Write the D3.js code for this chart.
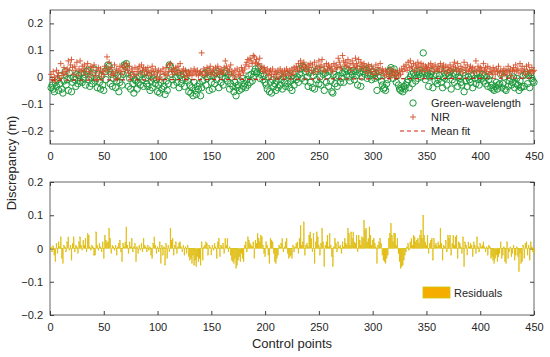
<!DOCTYPE html>
<html>
<head>
<meta charset="utf-8">
<script src="https://cdn.jsdelivr.net/npm/d3@7"></script>
<style>
  body { margin: 0; background: #fff; }
  #chart { width: 550px; height: 357px; }
  text { font-family: Arial, "Liberation Sans", Helvetica, sans-serif; fill: #262626; }
  .axis path, .axis line { stroke: #404040; }
  .axis text { font-size: 11px; fill: #262626; }
</style>
</head>
<body>
<div id="chart"></div>
<script>
// discrepancies in millimetres, control point 1..450
const greenWavelength = [
  -40,-30,-45,-55,-20,-35,-10,-50,-25,5, -45,-60,-15,20,-30,-10,-50,15,-5,-55,
  -20,0,-10,-35,10,-25,5,-15,15,-20, -5,10,-30,20,25,-10,-35,0,-25,15,
  30,-15,-5,-40,10,-20,-45,5,-30,-50, 20,-10,30,45,40,-25,10,-35,-5,15,
  -40,-15,5,-55,-20,0,-30,10,45,40, 50,15,-35,-5,-45,5,-25,-60,-10,-15,
  -45,-20,0,-30,10,-10,-35,15,-5,-25, -35,5,-50,-15,-40,-5,10,-25,-10,-55,
  -30,-60,-20,-45,0,-35,-65,-15,-50,-25, 45,40,10,-10,-30,20,0,-20,15,-40,
  5,-25,-10,10,-35,-5,15,-15,-55,-30, -60,-40,-70,-20,-50,-65,-35,-45,-25,-70,
  -40,-15,10,15,-30,-5,20,-50,5,-20, -45,5,-25,15,-10,20,-40,10,-20,0,
  -30,15,-5,20,-15,10,-45,-25,0,-35, -55,-20,-70,-40,-30,-50,-15,-45,-5,-35,
  -25,-40,-10,-30,5,-20,10,-15,0,20, 30,15,20,35,-5,10,25,-10,5,-20,
  -30,-45,0,-55,-20,-60,-10,-35,-25,-50, -15,-40,5,-30,-10,-45,0,-20,-35,10,
  -25,5,-40,-15,-50,-5,-30,15,-10,0, -20,10,30,-5,40,35,-15,20,0,-35,
  15,-20,25,-40,5,-45,20,-10,30,-25, 0,-30,25,10,-50,15,-20,5,-35,20,
  -15,-55,-60,10,-25,0,-35,5,25,-20, -5,15,-20,20,30,10,25,0,-15,20,
  10,25,-10,20,5,-30,30,15,-35,0, 20,30,10,25,-5,15,35,5,-10,20,
  10,-5,15,-50,0,20,5,-15,-30,-45, -40,-50,-25,-10,20,25,35,10,-5,30,
  15,-20,5,-30,-45,-50,-40,-55,-35,-45, -30,-20,-10,-40,0,10,-25,15,5,-15,
  20,-5,10,25,0,15,90,20,-10,5, 15,-35,0,10,20,-40,5,-15,10,-25,
  -10,5,30,-20,-40,0,-5,10,-30,15, 5,20,-45,-10,15,-20,10,20,-35,0,
  -5,-20,-30,15,-55,5,-15,-35,0,-10, -20,5,-40,10,-5,-25,15,-10,-30,0,
  -5,10,-15,5,-25,0,-35,-10,5,-40, -30,-45,-50,-35,-20,-45,-30,-25,10,-40,
  -25,0,-45,-50,15,-35,-15,-5,-30,-20, 0,-40,-25,-5,-30,-50,-15,-40,-35,5,
  -35,10,15,-25,5,-40,15,-5,-15,-20
];

const nir = [
  10,-10,20,0,-15,25,5,15,-5,50, 5,15,35,20,10,30,60,25,45,65,
  35,10,40,25,55,5,30,60,20,40, 25,45,10,30,50,20,0,40,15,35,
  45,5,25,-10,35,15,30,0,20,10, 40,25,75,30,55,10,35,20,5,45,
  15,30,-5,25,40,20,10,35,45,30, 50,25,15,40,0,30,20,10,35,5,
  20,30,40,15,45,25,35,10,30,20, 35,15,5,25,40,20,10,30,-5,15,
  25,0,20,-10,30,10,15,35,5,20, 45,50,25,10,30,20,35,15,40,25,
  50,10,20,30,0,25,15,5,20,10, 25,5,15,30,20,10,25,5,15,20,
  90,10,30,20,5,35,15,25,40,10, 20,30,5,35,15,40,25,10,30,20,
  15,35,60,40,25,10,30,45,20,5, 15,25,0,30,10,20,5,35,25,15,
  30,45,55,65,40,70,60,50,80,75, 55,65,45,50,70,30,40,20,35,25,
  15,30,5,20,25,10,30,0,15,20, 10,25,0,30,15,20,5,25,10,30,
  20,5,25,15,30,10,35,20,40,30, 50,25,60,35,45,55,30,40,20,45,
  35,50,25,45,15,55,30,40,20,60, 35,45,65,25,40,20,50,30,45,35,
  25,40,20,50,30,45,35,70,55,40, 30,80,60,45,55,40,65,35,50,25,
  60,45,35,70,50,40,65,30,55,45, 35,50,25,40,15,45,30,20,40,10,
  30,20,45,10,35,25,50,15,30,20, 5,25,10,20,0,30,15,5,25,10,
  20,0,15,5,25,10,30,20,40,30, 45,25,55,35,60,40,30,50,20,45,
  35,55,40,25,50,30,45,20,40,35, 30,45,25,50,35,40,20,45,30,25,
  40,30,50,20,35,45,25,40,15,35, 25,45,30,20,40,55,35,25,50,30,
  20,40,30,15,55,35,25,45,20,30, 40,25,35,15,30,60,20,40,25,35,
  30,15,50,25,35,20,40,10,30,20, 15,35,25,10,30,20,40,15,25,5,
  20,30,10,25,15,40,20,30,5,25, 35,20,45,25,30,15,50,25,40,20,
  30,10,40,20,45,25,15,35,20,25
];

const residuals = [
  5,-10,8,-20,-40,15,-15,20,5,35, -30,-45,10,5,-10,20,35,-5,10,-35,
  15,35,-10,10,5,-15,20,35,10,-5, 25,10,30,-10,45,40,5,-5,10,5,
  -20,-20,50,10,-5,15,5,-10,20,-30, 40,25,15,20,60,30,-15,10,5,-5,
  10,-20,5,15,25,-10,-40,15,5,20, 65,10,-15,20,5,30,-10,5,15,-40,
  5,-15,10,-5,15,-10,30,10,5,-10, 10,-5,5,-20,-30,15,35,10,-15,5,
  -10,20,-45,10,-20,5,-50,15,-30,10, -10,60,25,30,-20,10,20,-15,5,15,
  20,5,-10,10,-20,5,-15,10,-25,-35, -30,-45,-20,-50,-35,-55,-25,-40,-30,-50,
  20,-35,5,10,20,15,-20,10,5,-20, 10,-5,15,5,-30,20,30,-25,10,5,
  15,-15,30,10,30,-10,5,-20,-35,-40, -45,-30,-60,-50,-35,-25,-40,-15,-30,-40,
  10,20,-10,35,25,15,10,5,20,-30, 25,15,45,30,20,40,35,10,-15,-25,
  20,10,-20,-45,30,25,20,-15,-40,-45, -30,-20,10,5,15,30,-10,5,20,30,
  -15,-30,-25,-20,-30,10,-10,5,15,20, -15,30,70,10,20,80,-20,10,15,5,
  40,50,30,-10,45,-45,20,50,35,10, -20,15,60,20,-55,10,20,40,5,45,
  10,-25,-55,5,30,15,-10,20,5,10, -15,20,5,30,15,10,60,45,10,50,
  30,50,20,15,40,-10,40,25,10,35, 30,85,55,60,20,30,65,40,10,25,
  30,15,5,-45,10,20,30,15,-20,-35, -40,-45,-30,-20,30,45,75,40,20,45,
  45,10,30,-15,-40,-60,-55,-50,-35,-20, -10,5,15,-5,20,30,10,40,35,20,
  25,30,15,40,55,30,100,40,20,10, 40,-15,15,25,30,-35,30,10,15,5,
  20,10,60,15,-35,10,5,25,-10,40, 30,40,-20,15,40,10,35,40,-30,20,
  15,5,-15,35,-55,20,10,-20,20,5, 15,10,-25,20,10,-15,35,5,-10,15,
  5,10,20,5,-10,5,-20,10,5,-30, -25,-35,-45,-30,-20,-40,-25,-15,20,-30,
  -20,5,-40,-45,20,-30,-10,5,-25,-15, 10,-35,-20,5,-25,-70,-15,-45,-40,10,
  -30,15,20,-20,10,-35,20,5,-10,-15
];

const meanFitX = [1, 450];
const meanFitY = [-12, -4];

const xTicks = [0, 50, 100, 150, 200, 250, 300, 350, 400, 450];
const yTicksTop = [-0.2, -0.1, 0, 0.1, 0.2];
const yTicksBottom = [-0.2, -0.1, 0, 0.1, 0.2];
const legendTop = ["Green-wavelength", "NIR", "Mean fit"];
const legendBottom = ["Residuals"];

const greenColor = "#1c9a3c";
const redColor = "#d4502a";
const barFill = "#f5ae00";
const barEdge = "#cdc30c";

function drawChart() {
  const svg = d3.select("#chart").append("svg").attr("width", 550).attr("height", 357);

  const left = 50, right = 534;
  const top1 = 10, bottom1 = 144;
  const top2 = 182, bottom2 = 315;

  const xScale = d3.scaleLinear().domain([0, 450]).range([left, right]);
  const yTop = d3.scaleLinear().domain([-0.25, 0.25]).range([bottom1, top1]);
  const yBot = d3.scaleLinear().domain([-0.2, 0.2]).range([bottom2, top2]);

  const fmt = (d) => (d === 0 ? "0" : d3.format(".1f")(d));

  function frame(yScale, yTicks, y0, y1) {
    svg.append("rect")
      .attr("x", left).attr("y", y0)
      .attr("width", right - left).attr("height", y1 - y0)
      .attr("fill", "none").attr("stroke", "#404040").attr("stroke-width", 0.8);

    svg.append("g").attr("class", "axis")
      .attr("transform", "translate(0," + y1 + ")")
      .call(d3.axisBottom(xScale).tickValues(xTicks).tickSize(-4).tickPadding(8).tickFormat(d3.format("d")))
      .call((g) => g.select(".domain").remove());
    svg.append("g").attr("class", "axis")
      .attr("transform", "translate(0," + y0 + ")")
      .call(d3.axisTop(xScale).tickValues(xTicks).tickSize(-4).tickFormat(""))
      .call((g) => g.select(".domain").remove());
    svg.append("g").attr("class", "axis")
      .attr("transform", "translate(" + left + ",0)")
      .call(d3.axisLeft(yScale).tickValues(yTicks).tickSize(-4).tickPadding(7).tickFormat(fmt))
      .call((g) => g.select(".domain").remove());
    svg.append("g").attr("class", "axis")
      .attr("transform", "translate(" + right + ",0)")
      .call(d3.axisRight(yScale).tickValues(yTicks).tickSize(-4).tickFormat(""))
      .call((g) => g.select(".domain").remove());
  }

  frame(yTop, yTicksTop, top1, bottom1);
  frame(yBot, yTicksBottom, top2, bottom2);

  // top panel: green circles, NIR plusses, mean fit
  const plot1 = svg.append("g");
  plot1.selectAll("circle")
    .data(greenWavelength)
    .enter()
    .append("circle")
    .attr("cx", (d, i) => xScale(i + 1))
    .attr("cy", (d) => yTop(d / 1000))
    .attr("r", 3.2)
    .attr("fill", "none")
    .attr("stroke", greenColor)
    .attr("stroke-width", 1);

  const plusPath = "M-3,0H3M0,-3V3";
  plot1.selectAll("path.nir")
    .data(nir)
    .enter()
    .append("path")
    .attr("class", "nir")
    .attr("transform", (d, i) => "translate(" + xScale(i + 1) + "," + yTop(d / 1000) + ")")
    .attr("d", plusPath)
    .attr("stroke", redColor)
    .attr("stroke-width", 0.9)
    .attr("fill", "none");

  plot1.append("path")
    .datum(meanFitX.map((x, i) => [x, meanFitY[i]]))
    .attr("d", d3.line().x((d) => xScale(d[0])).y((d) => yTop(d[1] / 1000)))
    .attr("fill", "none")
    .attr("stroke", "#d02010")
    .attr("stroke-width", 1.2)
    .attr("stroke-dasharray", "4,3");

  // top legend
  const lx = 413, lt = 431;
  const leg1 = svg.append("g");
  leg1.append("circle").attr("cx", lx).attr("cy", 103).attr("r", 3.2)
    .attr("fill", "none").attr("stroke", greenColor).attr("stroke-width", 1);
  leg1.append("path").attr("transform", "translate(" + lx + ",117)")
    .attr("d", plusPath).attr("stroke", redColor).attr("stroke-width", 0.9);
  leg1.append("line").attr("x1", 400).attr("x2", 427).attr("y1", 131).attr("y2", 131)
    .attr("stroke", "#d02010").attr("stroke-width", 1.2).attr("stroke-dasharray", "4,3");
  leg1.selectAll("text")
    .data(legendTop)
    .enter()
    .append("text")
    .attr("x", lt)
    .attr("y", (d, i) => 107 + i * 14)
    .style("font-size", "11px")
    .text((d) => d);

  // bottom panel: residual bars
  const step = xScale(1) - xScale(0);
  const bw = step * 0.8;
  svg.append("g").selectAll("rect")
    .data(residuals)
    .enter()
    .append("rect")
    .attr("x", (d, i) => xScale(i + 1) - bw / 2)
    .attr("y", (d) => yBot(Math.max(0, d / 1000)))
    .attr("width", bw)
    .attr("height", (d) => Math.abs(yBot(d / 1000) - yBot(0)))
    .attr("fill", barFill)
    .attr("stroke", barEdge)
    .attr("stroke-width", 0.35);

  const leg2 = svg.append("g");
  leg2.append("rect").attr("x", 423).attr("y", 287).attr("width", 27).attr("height", 11)
    .attr("fill", barFill).attr("stroke", barEdge).attr("stroke-width", 0.8);
  leg2.append("text").attr("x", 454).attr("y", 297).style("font-size", "11px").text(legendBottom[0]);

  // axis titles
  svg.append("text")
    .attr("transform", "rotate(-90)")
    .attr("x", -163)
    .attr("y", 16)
    .style("text-anchor", "middle")
    .style("font-size", "13px")
    .text("Discrepancy (m)");

  svg.append("text")
    .attr("x", 292)
    .attr("y", 348)
    .style("text-anchor", "middle")
    .style("font-size", "13px")
    .text("Control points");
}

drawChart();
</script>
</body>
</html>
